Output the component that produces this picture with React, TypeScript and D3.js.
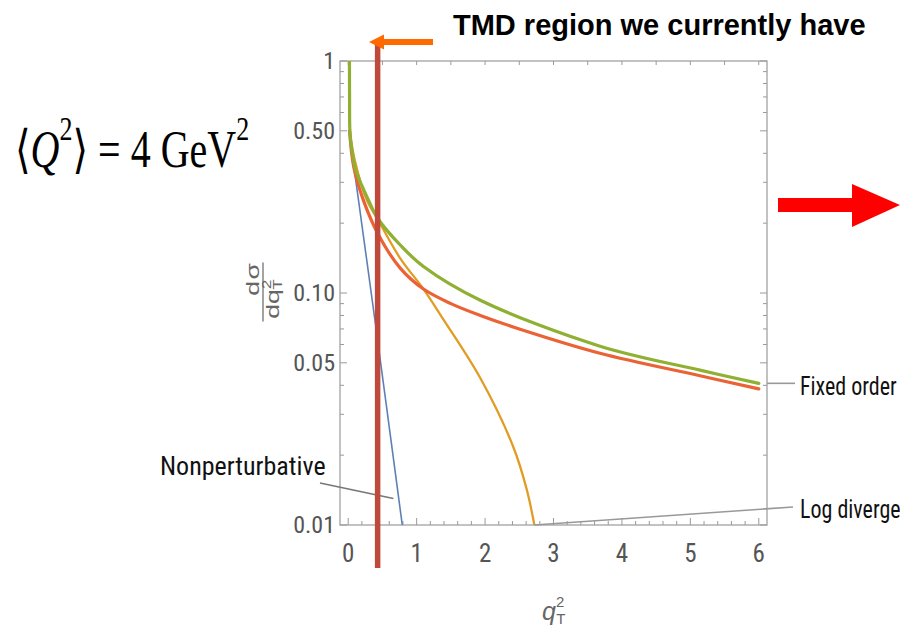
import * as React from 'react';
import * as d3 from 'd3';

// q_T^2 values and d(sigma)/d(q_T^2)
const greenQ = [0.018, 0.02, 0.025, 0.054, 0.1, 0.2, 0.3, 0.43, 0.76, 1.1, 1.93, 3.68, 5.14, 6.0];
const greenV = [1.0, 0.7, 0.5, 0.41, 0.345, 0.29, 0.25, 0.21, 0.161, 0.13, 0.093, 0.059, 0.0465, 0.0408];

const redQ = [0.02, 0.08, 0.22, 0.43, 0.76, 1.1, 1.5, 1.93, 2.5, 3.68, 5.14, 6.0];
const redV = [0.5, 0.35, 0.252, 0.181, 0.128, 0.104, 0.09, 0.08, 0.07, 0.055, 0.044, 0.0386];

const orangeQ = [0.02, 0.1, 0.27, 0.43, 0.76, 1.1, 1.39, 1.93, 2.41, 2.61, 2.72];
const orangeV = [0.5, 0.37, 0.252, 0.208, 0.141, 0.104, 0.077, 0.043, 0.0218, 0.0142, 0.01];

const blueQ = [0.02, 0.05, 0.39, 0.79];
const blueV = [0.48, 0.413, 0.0765, 0.01];

const xMajor = [0, 1, 2, 3, 4, 5, 6];
const yMajor = [1, 0.5, 0.1, 0.05, 0.01];
const yMajorLabels = ['1', '0.50', '0.10', '0.05', '0.01'];

const tmdEdge = 0.43; // boundary of the TMD region (red bar)

const W = 900;
const H = 628;
const left = 340, right = 767, top = 61, bottom = 525;

const axisColor = '#9a9a9a';
const tickFont = "'Liberation Sans Narrow', 'Arial Narrow', 'Roboto Condensed', 'Liberation Sans', sans-serif";

const App = () => {
  const x = d3.scaleLinear().domain([-0.12, 6.12]).range([left, right]);
  const y = d3.scaleLog().domain([0.01, 1]).range([bottom, top]);

  const line = d3
    .line<[number, number]>()
    .x((d) => x(d[0]))
    .y((d) => y(d[1]))
    .curve(d3.curveCatmullRom.alpha(0.5));

  const series = [
    { q: blueQ, v: blueV, color: '#5e81b5', w: 1.6 },
    { q: orangeQ, v: orangeV, color: '#e19c24', w: 2.3 },
    { q: redQ, v: redV, color: '#eb6235', w: 3.2 },
    { q: greenQ, v: greenV, color: '#8fb032', w: 3.2 },
  ];

  const xMinor = d3.range(0, 6.001, 0.2);
  const xTop = d3.range(0, 6.001, 0.5);
  const yTicks = y.ticks();
  const isMajorY = (t: number) => yMajor.some((m) => Math.abs(m - t) < 1e-9);
  const isMajorX = (t: number) => Math.abs(t - Math.round(t)) < 1e-6;

  return (
    <svg
      width={W}
      height={H}
      style={{ position: 'absolute', left: 0, top: 0, background: '#fff' }}>
      <defs>
        <clipPath id='plot'>
          <rect x={left} y={top} width={right - left} height={bottom - top} />
        </clipPath>
      </defs>

      {/* title */}
      <text
        x={453}
        y={35}
        fontFamily="'Liberation Sans', Arial, sans-serif"
        fontWeight='bold'
        fontSize={29}
        fill='#000'>
        TMD region we currently have
      </text>

      {/* <Q^2> = 4 GeV^2 */}
      <g transform='translate(15 167) scale(1 1.3)'>
        <text fontFamily="'Liberation Serif', 'DejaVu Serif', serif" fontSize={40} fill='#000'>
          <tspan fontFamily="'DejaVu Serif', serif" fontWeight='200'>⟨</tspan>
          <tspan fontStyle='italic'>Q</tspan>
          <tspan fontSize={26} dy={-21}>2</tspan>
          <tspan fontFamily="'DejaVu Serif', serif" dy={21}>⟩</tspan>
          <tspan> = 4 GeV</tspan>
          <tspan fontSize={26} dy={-21}>2</tspan>
        </text>
      </g>

      {/* frame */}
      <rect x={left} y={top} width={right - left} height={bottom - top} fill='none' stroke={axisColor} strokeWidth={1.2} />

      {/* bottom & top ticks */}
      {xMinor.map((t, i) => (
        <line
          key={'xb' + i}
          x1={x(t)}
          x2={x(t)}
          y1={bottom}
          y2={bottom - (isMajorX(t) ? 7 : 4)}
          stroke={axisColor}
        />
      ))}
      {xTop.map((t, i) => (
        <line key={'xt' + i} x1={x(t)} x2={x(t)} y1={top} y2={top + 4} stroke={axisColor} />
      ))}
      {xMajor.map((t) => (
        <text
          key={'xl' + t}
          x={x(t)}
          y={562}
          textAnchor='middle'
          fontFamily={tickFont}
          fontSize={25}
          fill='#555'>
          {t}
        </text>
      ))}

      {/* left & right ticks */}
      {yTicks.map((t, i) => (
        <g key={'y' + i}>
          <line x1={left} x2={left + (isMajorY(t) ? 7 : 4)} y1={y(t)} y2={y(t)} stroke={axisColor} />
          <line x1={right} x2={right - (isMajorY(t) ? 7 : 4)} y1={y(t)} y2={y(t)} stroke={axisColor} />
        </g>
      ))}
      {yMajor.map((t, i) => (
        <text
          key={'yl' + i}
          x={335}
          y={y(t) + 8}
          textAnchor='end'
          fontFamily={tickFont}
          fontSize={24}
          fill='#555'>
          {yMajorLabels[i]}
        </text>
      ))}

      {/* y label: dσ / dq_T^2 */}
      <g transform='translate(263 292) rotate(-90) scale(1.4 1)' fill='#666' fontFamily="'Liberation Sans', Arial, sans-serif">
        <text x={9} y={-4} fontSize={19} textAnchor='middle'>
          d<tspan dx={1}>σ</tspan>
        </text>
        <line x1={-21} x2={21} y1={0} y2={0} stroke='#666' strokeWidth={1.2} />
        <text x={-5} y={16} fontSize={19} textAnchor='middle'>
          dq
          <tspan fontSize={12} dy={-8}>2</tspan>
          <tspan fontSize={12} dx={-7} dy={11}>T</tspan>
        </text>
      </g>

      {/* x label q_T^2 */}
      <text x={542} y={620} fontFamily="'Liberation Sans', Arial, sans-serif" fontSize={25} fill='#666'>
        <tspan fontStyle='italic'>q</tspan>
        <tspan fontSize={15} dy={-13}>2</tspan>
        <tspan fontSize={15} dx={-8} dy={17}>T</tspan>
      </text>

      {/* curves */}
      <g clipPath='url(#plot)'>
        {series.map((s, i) => (
          <path
            key={i}
            d={line(s.q.map((q, j) => [q, s.v[j]] as [number, number])) || ''}
            fill='none'
            stroke={s.color}
            strokeWidth={s.w}
            strokeLinecap='round'
          />
        ))}
      </g>

      {/* callouts */}
      <line x1={320} y1={483} x2={x(0.66)} y2={y(0.013)} stroke='#777' strokeWidth={1.6} />
      <line x1={right} y1={y(0.0408)} x2={795} y2={y(0.0408)} stroke='#999' strokeWidth={1.6} />
      <line x1={x(2.72)} y1={bottom} x2={793} y2={507} stroke='#999' strokeWidth={1.6} />
      <text x={160} y={475} fontFamily={tickFont} fontSize={26} fill='#111'>
        Nonperturbative
      </text>
      <g transform='translate(800 395) scale(1 1.2)'>
        <text fontFamily={tickFont} fontSize={22} fill='#111'>
          Fixed order
        </text>
      </g>
      <g transform='translate(800 518) scale(1 1.2)'>
        <text fontFamily={tickFont} fontSize={22} fill='#111'>
          Log diverge
        </text>
      </g>

      {/* TMD region marker */}
      <line x1={x(tmdEdge)} x2={x(tmdEdge)} y1={44} y2={568} stroke='#bf4a3c' strokeWidth={5.5} />
      <line x1={433} x2={381} y1={42} y2={42} stroke='#ff6a00' strokeWidth={6} />
      <polygon points='369,42 384,34.5 384,49.5' fill='#ff6a00' />

      {/* right arrow */}
      <rect x={778} y={198} width={76} height={14} fill='#ff0000' />
      <polygon points='852,184 900,205 852,227' fill='#ff0000' />
    </svg>
  );
};

export default App;
